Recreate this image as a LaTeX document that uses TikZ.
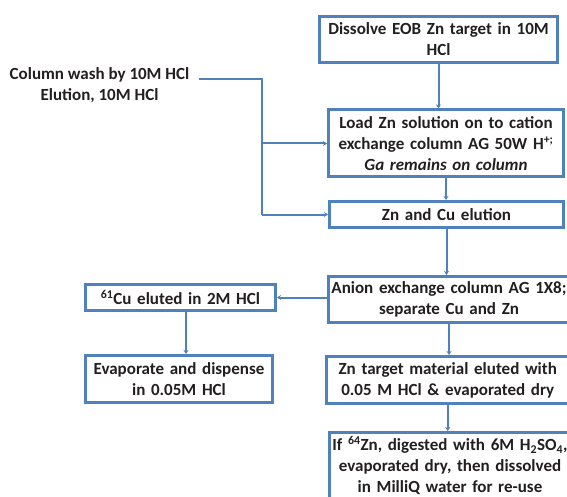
\documentclass[tikz,border=0pt]{standalone}
\usepackage{fontspec}
\setmainfont{Carlito}
\usetikzlibrary{arrows.meta}
\definecolor{bl}{HTML}{4F81BD}
\definecolor{ink}{HTML}{231F20}
\begin{document}
\begin{tikzpicture}[x=1pt,y=-1pt,
  font=\fontsize{17}{21}\selectfont\bfseries,
  box/.style={draw=bl, line width=3pt, fill=white, align=center, inner sep=0pt, text=ink},
  lbl/.style={align=center, inner sep=0pt, text=ink},
  arr/.style={draw=bl, line width=2pt, -{Stealth[length=4pt,width=5pt]}},
  ln/.style={draw=bl, line width=2pt}]
\path[use as bounding box] (0,0) rectangle (567,497);
\clip (0,0) rectangle (567,497);
\fill[white] (0,0) rectangle (567,497);

\node[box, minimum width=238pt, minimum height=46pt, text width=230pt] (b1) at (438.5,39.5)
  {Dissolve EOB Zn target in 10M\\HCl};
\node[box, minimum width=235pt, minimum height=67pt, text width=228pt] (b2) at (446,143.5)
  {Load Zn solution on to cation\\exchange column AG 50W H\textsuperscript{+;}\\\textit{Ga remains on column}};
\node[box, minimum width=234pt, minimum height=26pt, text width=228pt] (b3) at (446.5,214.5)
  {Zn and Cu elution};
\node[box, minimum width=241pt, minimum height=46pt, text width=236pt] (b4) at (449,299.5)
  {Anion exchange column AG 1X8;\\separate Cu and Zn};
\node[box, minimum width=190pt, minimum height=26pt, text width=184pt] (b5) at (180.5,297.5)
  {\textsuperscript{61}Cu eluted in 2M HCl};
\node[box, minimum width=187pt, minimum height=47pt, text width=182pt] (b6) at (179,379)
  {Evaporate and dispense\\in 0.05M HCl};
\node[box, minimum width=242pt, minimum height=47pt, text width=236pt] (b7) at (447.75,380)
  {Zn target material eluted with\\0.05 M HCl \& evaporated dry};
\node[box, minimum width=241pt, minimum height=66pt, text width=236pt] (b8) at (450,465.5)
  {If \textsuperscript{64}Zn, digested with 6M H\textsubscript{2}SO\textsubscript{4},\\evaporated dry, then dissolved\\in MilliQ water for re-use};

\node[lbl] (lt) at (99.5,85) {Column wash by 10M HCl\\Elution, 10M HCl};

\coordinate (s) at (199,79);
\coordinate (c1) at (262,79);
\coordinate (j1) at (262,143.5);
\coordinate (j2) at (262,214.5);
\draw[ln] (s) -- (c1) -- (j2);
\draw[arr] (j1) -- (b2.west);
\draw[arr] (j2) -- (b3.west);

\draw[arr] (b1.south) -- (b1.south |- b2.north);
\draw[arr] (b2.south) -- (b2.south |- b3.north);
\draw[arr] (b3.south) -- (b3.south |- b4.north);
\draw[arr] (b4.south) -- (b4.south |- b7.north);
\draw[arr] (b7.south) -- (b7.south |- b8.north);
\draw[arr] (b4.west |- b5.east) -- (b5.east);
\draw[arr] ([xshift=5.5pt]b5.south) -- ([xshift=5.5pt]b5.south |- b6.north);
\end{tikzpicture}
\end{document}
